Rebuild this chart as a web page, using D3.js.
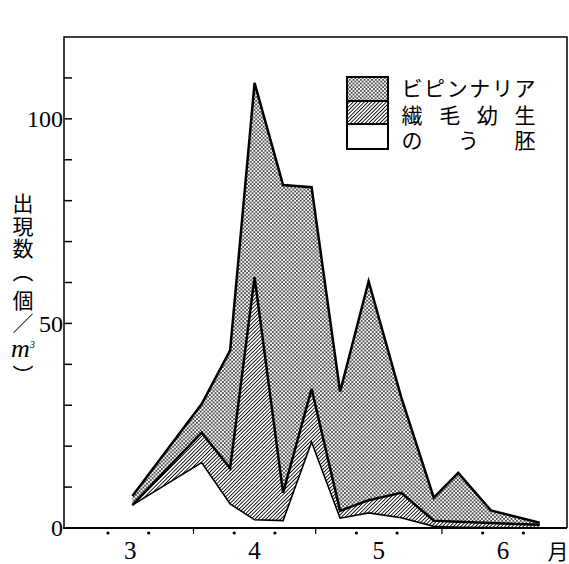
<!DOCTYPE html>
<html>
<head>
<meta charset="utf-8">
<script src="https://cdn.jsdelivr.net/npm/d3@7"></script>
<style>
  body { margin: 0; background: #fff; }
  svg { display: block; }
</style>
</head>
<body>
<div class="chart-container"></div>
<script>
// sampling dates (month-day) and counts per m3
var dates = ['03-17', '04-03', '04-10', '04-16', '04-23', '04-30', '05-07',
  '05-14', '05-22', '05-30', '06-05', '06-13', '06-25'];
var gastrula = [5.6, 16.0, 5.9, 2.0, 1.8, 21.0, 2.4, 3.7, 2.5, 0.4, 0.2, 0.1, 0];
var ciliated = [0, 7.3, 8.7, 59.3, 6.8, 13.0, 1.8, 3.1, 6.1, 1.4, 1.3, 1.1, 0.8];
var bipinnaria = [2.2, 7.0, 28.8, 47.5, 75.2, 49.3, 29.1, 53.5, 23.4, 5.6, 12.0, 3.1, 0.5];

var yTicks = [0, 10, 20, 30, 40, 50, 60, 70, 80, 90, 100, 110];
var yLabels = [0, 50, 100];
var months = ['03-01', '04-01', '05-01', '06-01', '07-01'];
var monthLabels = ['3', '4', '5', '6'];
var tenDays = ['03-11', '03-21', '04-11', '04-21', '05-11', '05-21', '06-11', '06-21'];
var legendLabels = ['ビピンナリア', '繊毛幼生', 'のう胚'];
var yTitle = ['出', '現', '数', '（', '個', '／', 'm', '）'];

var parse = d3.utcParse('%m-%d');
var width = 569,
  height = 564,
  plotLeft = 64,
  plotRight = 567,
  plotTop = 37,
  plotBottom = 528;

var rows = dates.map(function (d, i) {
  return {
    date: parse(d),
    gastrula: gastrula[i],
    ciliated: ciliated[i],
    bipinnaria: bipinnaria[i]
  };
});

var x = d3
  .scaleUtc()
  .domain([d3.utcHour.offset(parse('03-01'), -19), d3.utcHour.offset(parse('07-01'), 17)])
  .range([plotLeft, plotRight]);

var y = d3.scaleLinear().domain([0, 120]).range([plotBottom, plotTop]);

var svg = d3
  .select('.chart-container')
  .append('svg')
  .attr('width', width)
  .attr('height', height);

var defs = svg.append('defs');

// halftone dots
var dots = defs
  .append('pattern')
  .attr('id', 'dots')
  .attr('patternUnits', 'userSpaceOnUse')
  .attr('width', 3.7)
  .attr('height', 3.7);
dots.append('rect').attr('width', 3.7).attr('height', 3.7).attr('fill', '#fff');
dots.append('circle').attr('cx', 0.9).attr('cy', 0.9).attr('r', 0.85).attr('fill', '#000');
dots.append('circle').attr('cx', 2.75).attr('cy', 2.75).attr('r', 0.85).attr('fill', '#000');

// "////" hatching
var hatch = defs
  .append('pattern')
  .attr('id', 'hatch')
  .attr('patternUnits', 'userSpaceOnUse')
  .attr('width', 4)
  .attr('height', 2.6)
  .attr('patternTransform', 'rotate(-45)');
hatch.append('rect').attr('width', 4).attr('height', 2.6).attr('fill', '#fff');
hatch
  .append('line')
  .attr('x1', 0)
  .attr('x2', 4)
  .attr('y1', 1.3)
  .attr('y2', 1.3)
  .attr('stroke', '#000')
  .attr('stroke-width', 0.9);

var fills = { gastrula: '#fff', ciliated: 'url(#hatch)', bipinnaria: 'url(#dots)' };

var series = d3.stack().keys(['gastrula', 'ciliated', 'bipinnaria'])(rows);

var area = d3
  .area()
  .x(function (d) { return x(d.data.date); })
  .y0(function (d) { return y(d[0]); })
  .y1(function (d) { return y(d[1]); });

var line = d3
  .line()
  .x(function (d) { return x(d.data.date); })
  .y(function (d) { return y(d[1]); });

svg
  .selectAll('.layer')
  .data(series)
  .enter()
  .append('path')
  .attr('class', 'layer')
  .attr('fill', function (d) { return fills[d.key]; })
  .attr('d', area);

svg
  .selectAll('.edge')
  .data(series)
  .enter()
  .append('path')
  .attr('class', 'edge')
  .attr('fill', 'none')
  .attr('stroke', '#000')
  .attr('stroke-linejoin', 'miter')
  .attr('stroke-width', function (d) { return d.key === 'gastrula' ? 1.6 : 2.5; })
  .attr('d', line);

// frame
svg
  .append('path')
  .attr('fill', 'none')
  .attr('stroke', '#000')
  .attr('stroke-width', 1.5)
  .attr('d', 'M' + plotLeft + ',' + plotBottom + 'V' + plotTop + 'H' + plotRight + 'V' + plotBottom);

svg
  .append('line')
  .attr('x1', plotLeft - 1)
  .attr('x2', plotRight)
  .attr('y1', plotBottom)
  .attr('y2', plotBottom)
  .attr('stroke', '#000')
  .attr('stroke-width', 2);

// y ticks point inward
svg
  .selectAll('.ytick')
  .data(yTicks)
  .enter()
  .append('line')
  .attr('class', 'ytick')
  .attr('x1', plotLeft)
  .attr('x2', plotLeft + 8)
  .attr('y1', function (d) { return y(d); })
  .attr('y2', function (d) { return y(d); })
  .attr('stroke', '#000')
  .attr('stroke-width', 1.5);

svg
  .selectAll('.ylabel')
  .data(yLabels)
  .enter()
  .append('text')
  .attr('class', 'ylabel')
  .attr('x', plotLeft - 1)
  .attr('y', function (d) { return y(d); })
  .attr('dy', '0.35em')
  .attr('text-anchor', 'end')
  .attr('font-family', 'Liberation Serif')
  .attr('font-size', 24)
  .text(function (d) { return d; });

// x axis: month boundaries and 10-day dots
svg
  .selectAll('.xtick')
  .data(months.slice(1, 4))
  .enter()
  .append('line')
  .attr('class', 'xtick')
  .attr('x1', function (d) { return x(parse(d)); })
  .attr('x2', function (d) { return x(parse(d)); })
  .attr('y1', plotBottom)
  .attr('y2', plotBottom + 6)
  .attr('stroke', '#000')
  .attr('stroke-width', 1.2);

svg
  .selectAll('.xdot')
  .data(tenDays)
  .enter()
  .append('circle')
  .attr('class', 'xdot')
  .attr('cx', function (d) { return x(parse(d)); })
  .attr('cy', plotBottom + 5)
  .attr('r', 1.6)
  .attr('fill', '#000');

svg
  .selectAll('.xlabel')
  .data(monthLabels)
  .enter()
  .append('text')
  .attr('class', 'xlabel')
  .attr('x', function (d, i) {
    return (x(parse(months[i])) + x(parse(months[i + 1]))) / 2;
  })
  .attr('y', 559)
  .attr('text-anchor', 'middle')
  .attr('font-family', 'Liberation Serif')
  .attr('font-size', 25)
  .text(function (d) { return d; });

svg
  .append('text')
  .attr('x', 558)
  .attr('y', 559)
  .attr('text-anchor', 'middle')
  .attr('font-family', 'Noto Sans CJK JP')
  .attr('font-size', 21)
  .text('月');

// y title, written vertically
var titleY = [203, 226, 248, 272, 300, 323, 347, 375];
var title = svg
  .selectAll('.ytitle')
  .data(yTitle)
  .enter()
  .append('text')
  .attr('class', 'ytitle')
  .attr('x', 23)
  .attr('y', function (d, i) { return titleY[i]; })
  .attr('dy', '0.38em')
  .attr('text-anchor', 'middle')
  .attr('transform', function (d, i) {
    return d === '（' || d === '）' ? 'rotate(90,23,' + titleY[i] + ')' : null;
  })
  .attr('font-family', function (d) { return d === 'm' ? 'Liberation Serif' : 'Noto Sans CJK JP'; })
  .attr('font-style', function (d) { return d === 'm' ? 'italic' : 'normal'; })
  .attr('font-size', function (d) { return d === 'm' ? 26 : 21; })
  .text(function (d) { return d; });

title
  .filter(function (d) { return d === 'm'; })
  .append('tspan')
  .attr('font-size', 10)
  .attr('dy', '-0.9em')
  .text('3');

// legend
var legend = svg.append('g').attr('transform', 'translate(347,77)');
var boxFills = [fills.bipinnaria, fills.ciliated, fills.gastrula];
var boxY = [0, 24, 47, 72];

legend
  .selectAll('rect')
  .data(boxFills)
  .enter()
  .append('rect')
  .attr('x', 0)
  .attr('y', function (d, i) { return boxY[i]; })
  .attr('width', 41)
  .attr('height', function (d, i) { return boxY[i + 1] - boxY[i]; })
  .attr('fill', function (d) { return d; })
  .attr('stroke', '#000')
  .attr('stroke-width', 2);

legendLabels.forEach(function (label, r) {
  var chars = label.split('');
  var step = (525 - 412) / (chars.length - 1);
  legend
    .selectAll('.lab' + r)
    .data(chars)
    .enter()
    .append('text')
    .attr('class', 'lab' + r)
    .attr('x', function (d, i) { return 412 - 347 + i * step; })
    .attr('y', [11, 38, 63][r])
    .attr('dy', '0.36em')
    .attr('text-anchor', 'middle')
    .attr('font-family', 'Noto Sans CJK JP')
    .attr('font-size', 21)
    .text(function (d) { return d; });
});
</script>
</body>
</html>
